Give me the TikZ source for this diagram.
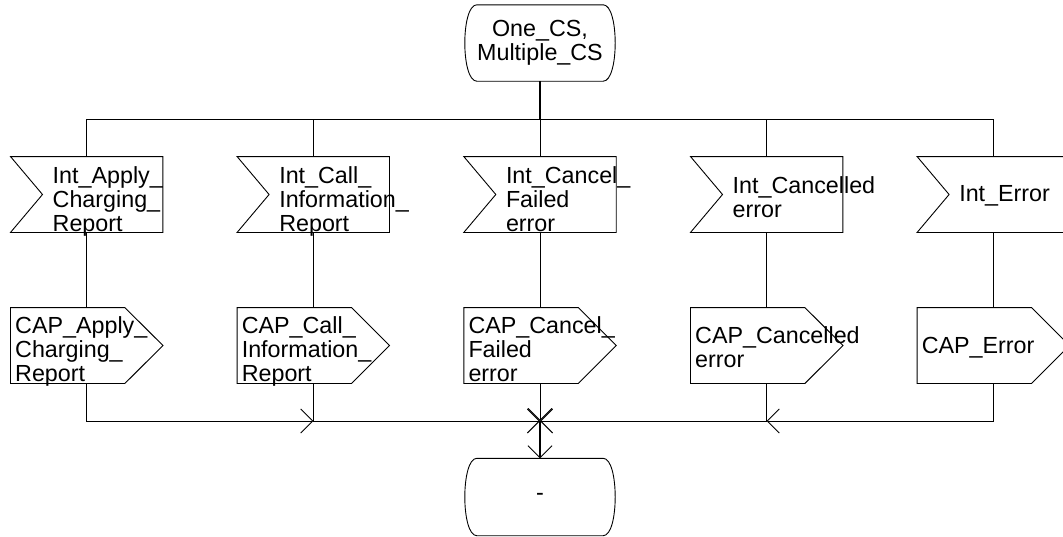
\documentclass[tikz,border=0pt]{standalone}
\usepackage{fontspec}
\setmainfont{Liberation Sans}
\usepackage{tikz}
\usetikzlibrary{arrows.meta, positioning, calc}
\newcommand{\sdlfont}{\fontsize{23.3pt}{24pt}\selectfont}
% outlines of the SDL symbols, drawn round an empty node
\newcommand{\inputshape}[1]{\draw[sdlline] (#1.north west) -- (#1.north east) -- (#1.south east) -- (#1.south west) -- ($(#1.west)+(32pt,0pt)$) -- cycle;}
\newcommand{\outputshape}[1]{\draw[sdlline] (#1.north west) -- ($(#1.north east)+(-38pt,0pt)$) -- (#1.east) -- ($(#1.south east)+(-38pt,0pt)$) -- (#1.south west) -- cycle;}
\newcommand{\stateshape}[1]{\draw[sdlline] ($(#1.north west)+(12pt,0pt)$) -- ($(#1.north east)+(-12pt,0pt)$)
  .. controls ($(#1.north east)+(4pt,0pt)$) and ($(#1.south east)+(4pt,0pt)$) .. ($(#1.south east)+(-12pt,0pt)$)
  -- ($(#1.south west)+(12pt,0pt)$)
  .. controls ($(#1.south west)+(-4pt,0pt)$) and ($(#1.north west)+(-4pt,0pt)$) .. cycle;}
\tikzset{
  sdlline/.style={line width=0.9pt, color=black},
  heavyline/.style={line width=1.7pt, color=black},
  flowarrow/.style={sdlline, -{Straight Barb[length=12pt, width=24pt, line width'=0.9pt]}},
  statebox/.style={rectangle, draw=none, minimum width=150pt, minimum height=76pt,
    inner sep=0pt, align=center, font=\sdlfont},
  sigbox/.style={rectangle, draw=none, minimum width=152pt, minimum height=75.5pt, inner sep=0pt},
  sigtext/.style={inner sep=0pt, align=left, font=\sdlfont}
}
\begin{document}
\begin{tikzpicture}[x=1pt, y=-1pt]
  \useasboundingbox (0,0) rectangle (1063,536);
  \clip (0,0) rectangle (1063,536);
  % states
  \node[statebox] (st1) at (540,43) {One\_CS,\\Multiple\_CS};
  \stateshape{st1}
  \node[statebox, minimum height=77pt] (st2) at (540,497) {-};
  \stateshape{st2}

  % input signals
  \node[sigbox] (in1) at (86.7,194.5) {};
  \node[sigbox] (in2) at (313.3,194.5) {};
  \node[sigbox] (in3) at (540,194.5) {};
  \node[sigbox] (in4) at (766.7,194.5) {};
  \node[sigbox] (in5) at (993.3,194.5) {};
  \inputshape{in1} \inputshape{in2} \inputshape{in3} \inputshape{in4} \inputshape{in5}
  \node[sigtext, below right=10pt and 42pt of in1.north west] (tin1) {Int\_Apply\_\\Charging\_\\Report};
  \node[sigtext, below right=10pt and 42pt of in2.north west] (tin2) {Int\_Call\_\\Information\_\\Report};
  \node[sigtext, below right=10pt and 42pt of in3.north west] (tin3) {Int\_Cancel\_\\Failed\\error};
  \node[sigtext, below right=20pt and 42pt of in4.north west] (tin4) {Int\_Cancelled\\error};
  \node[sigtext, below right=28.5pt and 42pt of in5.north west] (tin5) {Int\_Error};

  % output signals
  \node[sigbox] (out1) at (86.7,345.5) {};
  \node[sigbox] (out2) at (313.3,345.5) {};
  \node[sigbox] (out3) at (540,345.5) {};
  \node[sigbox] (out4) at (766.7,345.5) {};
  \node[sigbox] (out5) at (993.3,345.5) {};
  \outputshape{out1} \outputshape{out2} \outputshape{out3} \outputshape{out4} \outputshape{out5}
  \node[sigtext, below right=9pt and 4.5pt of out1.north west] (tout1) {CAP\_Apply\_\\Charging\_\\Report};
  \node[sigtext, below right=9pt and 4.5pt of out2.north west] (tout2) {CAP\_Call\_\\Information\_\\Report};
  \node[sigtext, below right=9pt and 4.5pt of out3.north west] (tout3) {CAP\_Cancel\_\\Failed\\error};
  \node[sigtext, below right=19pt and 4.5pt of out4.north west] (tout4) {CAP\_Cancelled\\error};
  \node[sigtext, below right=29pt and 4.5pt of out5.north west] (tout5) {CAP\_Error};

  % fan out from the first state
  \coordinate (j1) at (86.7,119);
  \coordinate (j2) at (313.3,119);
  \coordinate (j3) at (540,119);
  \coordinate (j4) at (766.7,119);
  \coordinate (j5) at (993.3,119);
  \draw[heavyline] (st1.south) -- (j3);
  \draw[sdlline] (in1.north) -- (j1) -- (j5) -- (in5.north);
  \draw[sdlline] (j2) -- (in2.north);
  \draw[sdlline] (j3) -- (in3.north);
  \draw[sdlline] (j4) -- (in4.north);
  \draw[sdlline] (in1.south) -- (out1.north);
  \draw[sdlline] (in2.south) -- (out2.north);
  \draw[sdlline] (in3.south) -- (out3.north);
  \draw[sdlline] (in4.south) -- (out4.north);
  \draw[sdlline] (in5.south) -- (out5.north);

  % merge into the next state
  \coordinate (m1) at (86.7,421);
  \coordinate (m2) at (313.3,421);
  \coordinate (m3) at (540,421);
  \coordinate (m4) at (766.7,421);
  \coordinate (m5) at (993.3,421);
  \draw[flowarrow] (out1.south) -- (m1) -- (m2);
  \draw[flowarrow] (m2) -- (m3);
  \draw[sdlline] (out2.south) -- (m2);
  \draw[flowarrow] (out3.south) -- (m3);
  \draw[sdlline] (out4.south) -- (m4);
  \draw[flowarrow] (out5.south) -- (m5) -- (m4);
  \draw[flowarrow] (m4) -- (m3);
  \draw[flowarrow, heavyline] (m3) -- (st2.north);
\end{tikzpicture}
\end{document}
